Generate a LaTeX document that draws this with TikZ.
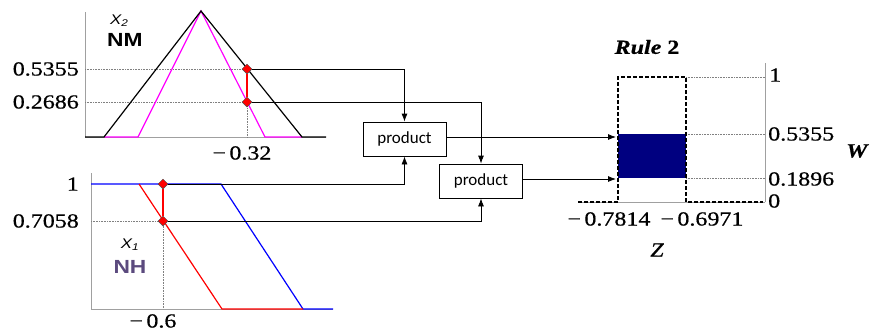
\documentclass[tikz,border=0pt]{standalone}
\usepackage{fontspec}
\usepackage{tikz}
\usepackage{xcolor}
\newfontfamily\numfont{Liberation Serif}[FakeStretch=1.2, FakeBold=0.6]
\newfontfamily\labfont{Liberation Sans}[FakeStretch=1.2]
\newfontfamily\boxfont{Carlito}
\usetikzlibrary{shapes.geometric, arrows.meta, positioning}
\definecolor{MF_Magenta}{HTML}{FF00FF}
\definecolor{MF_Blue}{HTML}{0000FF}
\definecolor{MF_Red}{HTML}{FF0000}
\definecolor{MF_Navy}{HTML}{000080}
\definecolor{MF_Purple}{HTML}{5B4A7E}
\definecolor{MF_Axis}{HTML}{A0A0A0}
\tikzset{
    axis/.style={MF_Axis, line width=1pt},
    guide/.style={gray, densely dotted, line width=0.6pt},
    hit/.style={diamond, draw=black!70, fill=MF_Red, inner sep=0pt, minimum size=10pt, line width=0.5pt},
    prodbox/.style={draw, line width=0.8pt, minimum width=83pt, minimum height=34pt, font={\boxfont\fontsize{17}{17}\selectfont}},
    wire/.style={line width=0.8pt, -{Latex[length=8pt, width=6pt]}},
    num/.style={font={\numfont\fontsize{20}{20}\selectfont}, inner sep=1pt},
    mflab/.style={font={\labfont\bfseries\fontsize{19}{19}\selectfont}, inner sep=0pt},
    varlab/.style={font={\labfont\itshape\fontsize{14}{14}\selectfont}, inner sep=0pt},
}

\begin{document}
\begin{tikzpicture}[x=1pt, y=-1pt]
    \useasboundingbox (0,0) rectangle (870,333);

    % Input X2 (NM)
    \draw[axis] (85,12) -- (85,137) -- (326,137);
    \draw[guide] (85,69) -- (247,69);
    \draw[guide] (85,102) -- (247,102) -- (247,137);
    \draw[MF_Magenta, line width=1.2pt] (104,137) -- (138,137) -- (201,11) -- (265,137) -- (302,137);
    \draw[line width=1.2pt] (85,137) -- (104,137) -- (201,11) -- (302,137) -- (326,137);
    \node[hit] (d2hi) at (247,69) {};
    \node[hit] (d2lo) at (247,102) {};
    \draw[MF_Red, line width=1.2pt] (d2hi.south) -- (d2lo.north);
    \node[varlab, anchor=west] (x2) at (110,21) {X\textsubscript{2}};
    \node[mflab, anchor=west] (nm) at (107,40) {NM};
    \node[num, anchor=east] (v2hi) at (80,69) {0.5355};
    \node[num, anchor=east] (v2lo) at (80,102) {0.2686};
    \node[num] (in2) at (242,153) {−\,0.32};

    % Input X1 (NH)
    \draw[axis] (91,173) -- (91,309) -- (333,309);
    \draw[guide] (91,221) -- (163,221) -- (163,309);
    \draw[MF_Blue, line width=1.2pt] (91,184) -- (221,184) -- (303,309) -- (333,309);
    \draw[MF_Red, line width=1.2pt] (139,184) -- (222,309) -- (303,309);
    \node[hit] (d1hi) at (163,184) {};
    \node[hit] (d1lo) at (163,221) {};
    \draw[MF_Red, line width=1.2pt] (d1hi.south) -- (d1lo.north);
    \node[varlab] (x1) at (130,245) {X\textsubscript{1}};
    \node[mflab, MF_Purple] (nh) at (130,267) {NH};
    \node[num, anchor=east] (v1hi) at (80,184) {1};
    \node[num, anchor=east] (v1lo) at (80,221) {0.7058};
    \node[num] (in1) at (153,321) {−\,0.6};

    % Product boxes
    \node[prodbox] (prod1) at (404.5,139) {product};
    \node[prodbox] (prod2) at (481,181) {product};
    \draw[wire] (d2hi.east) -| (prod1.north);
    \draw[wire] (d2lo.east) -| (prod2.north);
    \draw[wire] (d1hi.east) -| (prod1.south);
    \draw[wire] (d1lo.east) -| (prod2.south);

    % Rule 2 output
    \fill[MF_Navy] (618,134) rectangle (686,178);
    \draw[axis] (578,202) -- (765,202);
    \draw[axis] (765,63) -- (765,202);
    \draw[guide] (686,77) -- (765,77);
    \draw[guide] (686,134) -- (765,134);
    \draw[guide] (686,178) -- (765,178);
    \draw[line width=1.1pt, dash pattern=on 4pt off 2pt] (578,202) -- (618,202) -- (618,77) -- (686,77) -- (686,202) -- (763,202);
    \coordinate (r1) at (616,137);
    \coordinate (r2) at (616,179);
    \draw[wire] (prod1.east |- r1) -- (r1);
    \draw[wire] (prod2.east |- r2) -- (r2);
    \node[num, font={\numfont\bfseries\fontsize{20}{20}\selectfont}] (rule) at (647,47) {\textit{Rule} 2};
    \node[num, anchor=west] (w1) at (768,75) {1};
    \node[num, anchor=west] (whi) at (767,134) {0.5355};
    \node[num, anchor=west] (wlo) at (767,179) {0.1896};
    \node[num, anchor=west] (w0) at (767,201) {0};
    \node[num, anchor=west, font={\numfont\bfseries\itshape\fontsize{20}{20}\selectfont}] (wlab) at (845,151) {W};
    \node[num] (zlo) at (609,219) {−\,0.7814};
    \node[num] (zhi) at (702,219) {−\,0.6971};
    \node[num, font={\numfont\itshape\fontsize{20}{20}\selectfont}] (zlab) at (657,250) {Z};
\end{tikzpicture}
\end{document}
